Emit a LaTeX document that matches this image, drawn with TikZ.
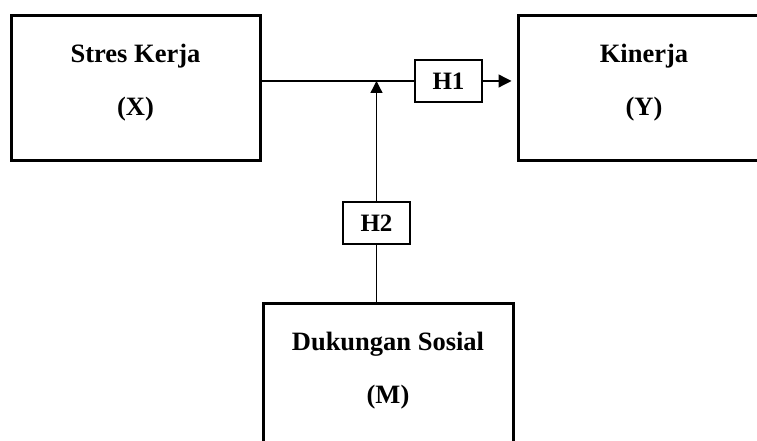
\documentclass[tikz,border=0pt]{standalone}
\usepackage{fontspec}
\setmainfont{Liberation Serif}
\usepackage{tikz}
\usetikzlibrary{arrows.meta, positioning}
\tikzstyle{var}=[rectangle, draw, line width=3pt, minimum width=249pt, minimum height=145pt, inner sep=0pt]
\tikzstyle{hyp}=[rectangle, draw, line width=1.3pt, minimum width=67pt, minimum height=42pt, inner sep=0pt, font=\fontsize{25}{30}\selectfont\bfseries]
\tikzstyle{txt}=[align=center, inner sep=0pt, font=\fontsize{26.5}{53}\selectfont\bfseries]
\tikzstyle{conn}=[line width=1.3pt]

\begin{document}
\begin{tikzpicture}[x=1pt, y=1pt]
\useasboundingbox (0,0) rectangle (757,441);

% Variables
\node[var] (stres) at (135.5,352.5) {};
\node[txt] (stres-t) at (135.5,358.5) {Stres Kerja\\(X)};
\node[var, minimum width=252pt] (kinerja) at (644,352.5) {};
\node[txt] (kinerja-t) at (644,358.5) {Kinerja\\(Y)};
\node[var, minimum width=250pt] (dukungan) at (388,64.5) {};
\node[txt] (dukungan-t) at (388,70.5) {Dukungan Sosial\\(M)};

% Hypotheses
\node[hyp] (h1) at (448.5,360) {H1};
\node[hyp] (h2) at (376.5,218) {H2};
\coordinate (junc) at (h2.north |- h1.west);

\draw[conn] (stres.east |- h1.west) -- (h1.west);
\draw[conn, -{Triangle[length=13pt, width=13pt]}, shorten >=5pt] (h1.east) -- (kinerja.west |- h1.east);
\draw[conn] (h2.south |- dukungan.north) -- (h2.south);
\draw[conn, -{Triangle[length=12pt, width=12pt]}] (h2.north) -- (junc);

\end{tikzpicture}
\end{document}
